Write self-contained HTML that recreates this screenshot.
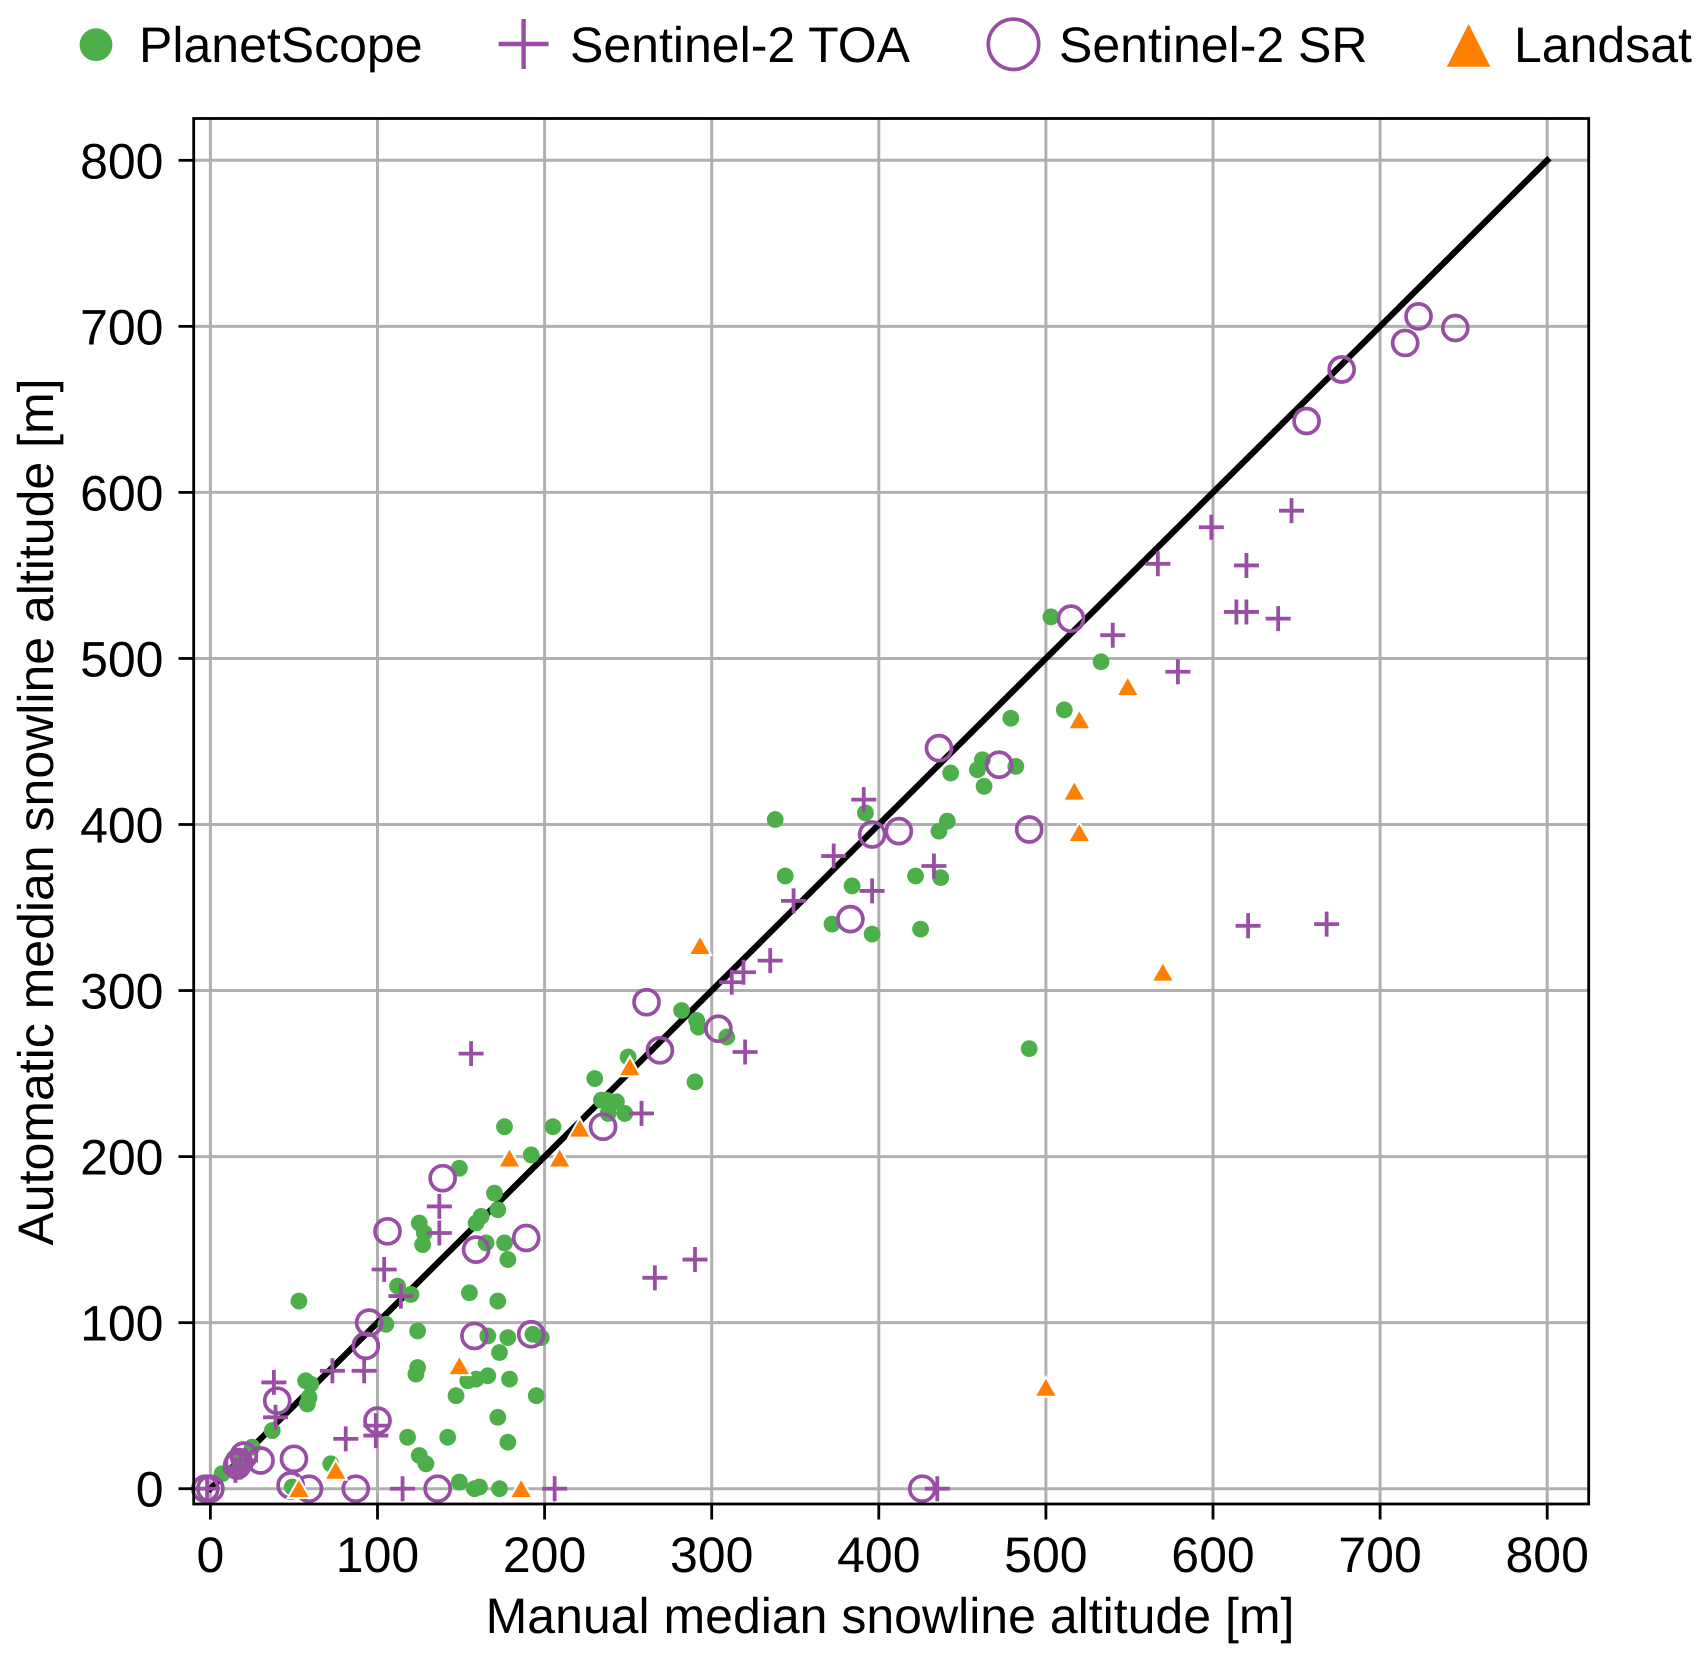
<!DOCTYPE html>
<html>
<head>
<meta charset="utf-8">
<title>Snowline altitude scatter</title>
<style>
html,body{margin:0;padding:0;background:#fff;}
svg{display:block;}
text{font-family:"Liberation Sans",Arial,sans-serif;fill:#000;text-rendering:geometricPrecision;}
</style>
</head>
<body>
<svg id="chart" xmlns="http://www.w3.org/2000/svg" width="1707" height="1659" viewBox="0 0 1707 1659"></svg>
<script>
const xTicks = [0,100,200,300,400,500,600,700,800];
const yTicks = [0,100,200,300,400,500,600,700,800];
const oneToOne = [0,800];

const planetX = [503,533,511,479,462,482,459,443,463,441,436,437,422,425,392,338,344,384,372,396,490,282,291,292,309,250,230,290,234,237,243,238,248,205,176,192,149,170,172,162,159,125,128,127,165,176,178,112,120,155,172,53,105,124,166,178,193,198,173,124,123,154,159,166,179,147,195,57,60,59,58,172,37,118,142,178,125,129,72,149,158,161,173,25,7,49,17,20];
const planetY = [525,498,469,464,439,435,433,431,423,402,396,368,369,337,407,403,369,363,340,334,265,288,282,278,272,260,247,245,234,234,233,226,226,218,218,201,193,178,168,164,160,160,154,147,148,148,138,122,117,118,113,113,99,95,92,91,93,91,82,73,69,65,66,68,66,56,56,65,63,55,51,43,35,31,31,28,20,15,15,4,0,1,0,25,9,1,17,18];

const toaX = [647,599,567,620,614,620,639,540,579,391,373,433,396,349,621,668,335,319,312,320,156,258,290,266,137,137,104,114,73,92,38,39,99,99,81,115,206,435,15,21,18,-2];
const toaY = [589,579,557,556,528,528,524,514,492,415,381,375,360,354,339,340,318,311,305,263,262,226,138,127,170,154,132,116,71,71,64,43,38,32,30,0,0,0,11,17,13,0];

const srX = [723,745,715,677,656,515,436,472,490,412,396,383,261,304,269,235,139,106,159,189,95,93,158,192,40,100,50,30,20,17,16,48,59,87,136,426,-3,0];
const srY = [706,699,690,674,643,524,446,436,397,396,394,343,293,277,264,218,187,155,144,151,100,86,92,93,53,41,18,17,20,16,14,2,0,0,0,0,0,0];

const landsatX = [293,549,520,517,520,570,251,221,179,209,149,500,75,53,186];
const landsatY = [327,483,463,420,395,311,254,217,199,199,74,61,11,0,0];

const svg = document.getElementById('chart');
const NS = 'http://www.w3.org/2000/svg';
const sx = v => 210.4 + v * 1.671;
const sy = v => 1488.7 - v * 1.6605;
const GREEN = '#4daf4a', PURPLE = '#984ea3', ORANGE = '#ff7f00';
const FONT = 50;

function mk(tag, attrs, parent) {
  const el = document.createElementNS(NS, tag);
  for (const k in attrs) el.setAttribute(k, attrs[k]);
  (parent || svg).appendChild(el);
  return el;
}

// gridlines
const gridGroup = mk('g', {});


xTicks.forEach(t => {
  const l = mk('line', {x1:sx(t), x2:sx(t), y1:118.5, y2:1504, stroke:'#b0b0b0', 'stroke-width':3}, gridGroup);
  
  
});
yTicks.forEach(t => {
  const l = mk('line', {x1:193.7, x2:1588.7, y1:sy(t), y2:sy(t), stroke:'#b0b0b0', 'stroke-width':3}, gridGroup);
  
  
});

// 1:1 line
const refLine = mk('line', {x1:sx(oneToOne[0]), y1:sy(oneToOne[0]), x2:sx(oneToOne[1]), y2:sy(oneToOne[1]), stroke:'#000', 'stroke-width':6.2, 'stroke-linecap':'square'});



const planetGroup = mk('g', {fill:GREEN});


planetX.forEach((x, i) => {
  const c = mk('circle', {cx:sx(x), cy:sy(planetY[i]), r:8.4}, planetGroup);
  
  
});

const toaGroup = mk('g', {stroke:PURPLE, 'stroke-width':3.8, fill:'none'});


toaX.forEach((x, i) => {
  const px = sx(x), py = sy(toaY[i]), h = 12.5;
  const p = mk('path', {d:`M${px-h} ${py}H${px+h}M${px} ${py-h}V${py+h}`}, toaGroup);
  
  
});

const srGroup = mk('g', {stroke:PURPLE, 'stroke-width':3.7, fill:'none'});


srX.forEach((x, i) => {
  const c = mk('circle', {cx:sx(x), cy:sy(srY[i]), r:12.5}, srGroup);
  
  
});

const landsatGroup = mk('g', {fill:ORANGE, stroke:'#fff', 'stroke-width':2});


landsatX.forEach((x, i) => {
  const px = sx(x), py = sy(landsatY[i]);
  const p = mk('path', {d:`M${px} ${py-10.5}L${px+11.3} ${py+9.3}H${px-11.3}Z`}, landsatGroup);
  
  
});

// frame
const frame = mk('rect', {x:193.7, y:118.5, width:1395, height:1385.5, fill:'none', stroke:'#000', 'stroke-width':2.8});



// ticks
xTicks.forEach(t => {
  const l = mk('line', {x1:sx(t), x2:sx(t), y1:1504, y2:1519.5, stroke:'#000', 'stroke-width':2.8});
  
  
  const tx = mk('text', {x:sx(t), y:1572, 'text-anchor':'middle', 'font-size':FONT});
  
  
  tx.textContent = t;
});
yTicks.forEach(t => {
  const l = mk('line', {x1:178.5, x2:193.7, y1:sy(t), y2:sy(t), stroke:'#000', 'stroke-width':2.8});
  
  
  const tx = mk('text', {x:163.5, y:sy(t)+18, 'text-anchor':'end', 'font-size':FONT});
  
  
  tx.textContent = t;
});

// axis titles
const xTitle = mk('text', {x:890, y:1633, 'text-anchor':'middle', 'font-size':FONT});


xTitle.textContent = 'Manual median snowline altitude [m]';
const yTitle = mk('text', {x:0, y:0, 'text-anchor':'middle', 'font-size':FONT, transform:'translate(53 812) rotate(-90)'});


yTitle.textContent = 'Automatic median snowline altitude [m]';

// legend
const legend = mk('g', {});


const lg1 = mk('circle', {cx:96, cy:44.7, r:16.4, fill:GREEN}, legend);


const lg2 = mk('path', {d:'M498.6 44H548.6M523.6 19V69', stroke:PURPLE, 'stroke-width':4.4, fill:'none'}, legend);


const lg3 = mk('circle', {cx:1013.5, cy:44.3, r:25.2, stroke:PURPLE, 'stroke-width':3.7, fill:'none'}, legend);


const lg4 = mk('path', {d:'M1468.6 24L1490.4 66.7H1446.8Z', fill:ORANGE}, legend);


const lt1 = mk('text', {x:139, y:62, 'font-size':FONT}, legend);


lt1.textContent = 'PlanetScope';
const lt2 = mk('text', {x:570, y:62, 'font-size':FONT}, legend);


lt2.textContent = 'Sentinel-2 TOA';
const lt3 = mk('text', {x:1059, y:62, 'font-size':FONT}, legend);


lt3.textContent = 'Sentinel-2 SR';
const lt4 = mk('text', {x:1514, y:62, 'font-size':FONT}, legend);


lt4.textContent = 'Landsat';
</script>
</body>
</html>
